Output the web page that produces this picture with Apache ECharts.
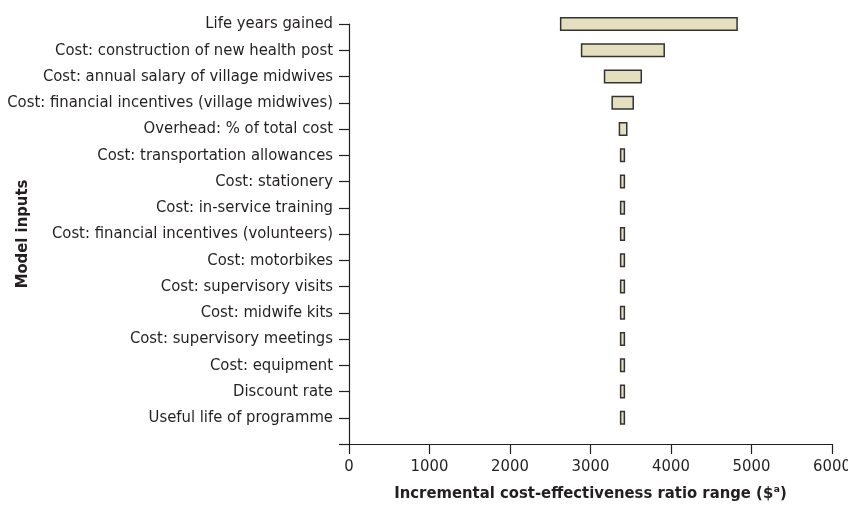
<!DOCTYPE html>
<html>
<head>
<meta charset="utf-8">
<script src="https://cdn.jsdelivr.net/npm/echarts@6/dist/echarts.min.js"></script>
<style>
    html, body { margin: 0; padding: 0; background: #fff; }
    #main { width: 848px; height: 511px; }
</style>
</head>
<body>
<div id="main"></div>
<script>
// model inputs, top to bottom; last slot is empty (axis runs one step below)
var categories = [
    'Life years gained',
    'Cost: construction of new health post',
    'Cost: annual salary of village midwives',
    'Cost: financial incentives (village midwives)',
    'Overhead: % of total cost',
    'Cost: transportation allowances',
    'Cost: stationery',
    'Cost: in-service training',
    'Cost: financial incentives (volunteers)',
    'Cost: motorbikes',
    'Cost: supervisory visits',
    'Cost: midwife kits',
    'Cost: supervisory meetings',
    'Cost: equipment',
    'Discount rate',
    'Useful life of programme',
    ''
];
// ICER range ends ($)
var lowValues  = [2620, 2880, 3165, 3260, 3350, 3365, 3365, 3365, 3365, 3365, 3365, 3365, 3365, 3365, 3365, 3365, null];
var highValues = [4830, 3925, 3640, 3540, 3460, 3430, 3430, 3430, 3430, 3430, 3430, 3430, 3430, 3430, 3430, 3430, null];
var xTicks = [0, 6000, 1000];

var font = '"Liberation Sans Narrow", "DejaVu Sans Condensed", sans-serif';
var ink = '#231f20';

var myChart = echarts.init(document.getElementById('main'));

var spans = highValues.map(function (v, i) {
    return v == null ? null : v - lowValues[i];
});

myChart.setOption({
    animation: false,
    grid: {
        left: 349,
        right: 16,
        top: 24,
        bottom: 67,
        outerBoundsMode: 'none',
        containLabel: false
    },
    xAxis: {
        type: 'value',
        min: xTicks[0],
        max: xTicks[1],
        interval: xTicks[2],
        name: 'Incremental cost-effectiveness ratio range ($ᵃ)',
        nameLocation: 'middle',
        nameGap: 41,
        nameTextStyle: {
            fontFamily: font,
            fontWeight: 'bold',
            fontSize: 16.5,
            color: ink
        },
        axisLine: { show: true, lineStyle: { color: ink, width: 1.2 } },
        axisTick: { show: true, length: 10, lineStyle: { color: ink, width: 1.2 } },
        axisLabel: {
            margin: 14,
            fontFamily: font,
            fontSize: 16.5,
            color: ink,
            formatter: function (v) { return String(v); }
        },
        splitLine: { show: false }
    },
    yAxis: {
        type: 'category',
        data: categories,
        inverse: true,
        boundaryGap: false,
        name: 'Model inputs',
        nameLocation: 'middle',
        nameRotate: 90,
        nameGap: 318,
        nameMoveOverlap: false,
        nameTextStyle: {
            fontFamily: font,
            fontWeight: 'bold',
            fontSize: 16.5,
            color: ink
        },
        axisLine: { show: true, lineStyle: { color: ink, width: 1.2 } },
        axisTick: { show: true, length: 10, interval: 0, lineStyle: { color: ink, width: 1.2 } },
        axisLabel: {
            margin: 16,
            interval: 0,
            fontFamily: font,
            fontSize: 16.5,
            color: ink
        },
        splitLine: { show: false }
    },
    series: [{
        name: 'low',
        type: 'bar',
        stack: 'range',
        barWidth: 14,
        silent: true,
        itemStyle: { color: 'transparent' },
        data: lowValues
    }, {
        name: 'range',
        type: 'bar',
        stack: 'range',
        barWidth: 14,
        itemStyle: {
            color: '#e4e0bf',
            borderColor: '#333',
            borderWidth: 1.5
        },
        data: spans
    }]
});
</script>
</body>
</html>
